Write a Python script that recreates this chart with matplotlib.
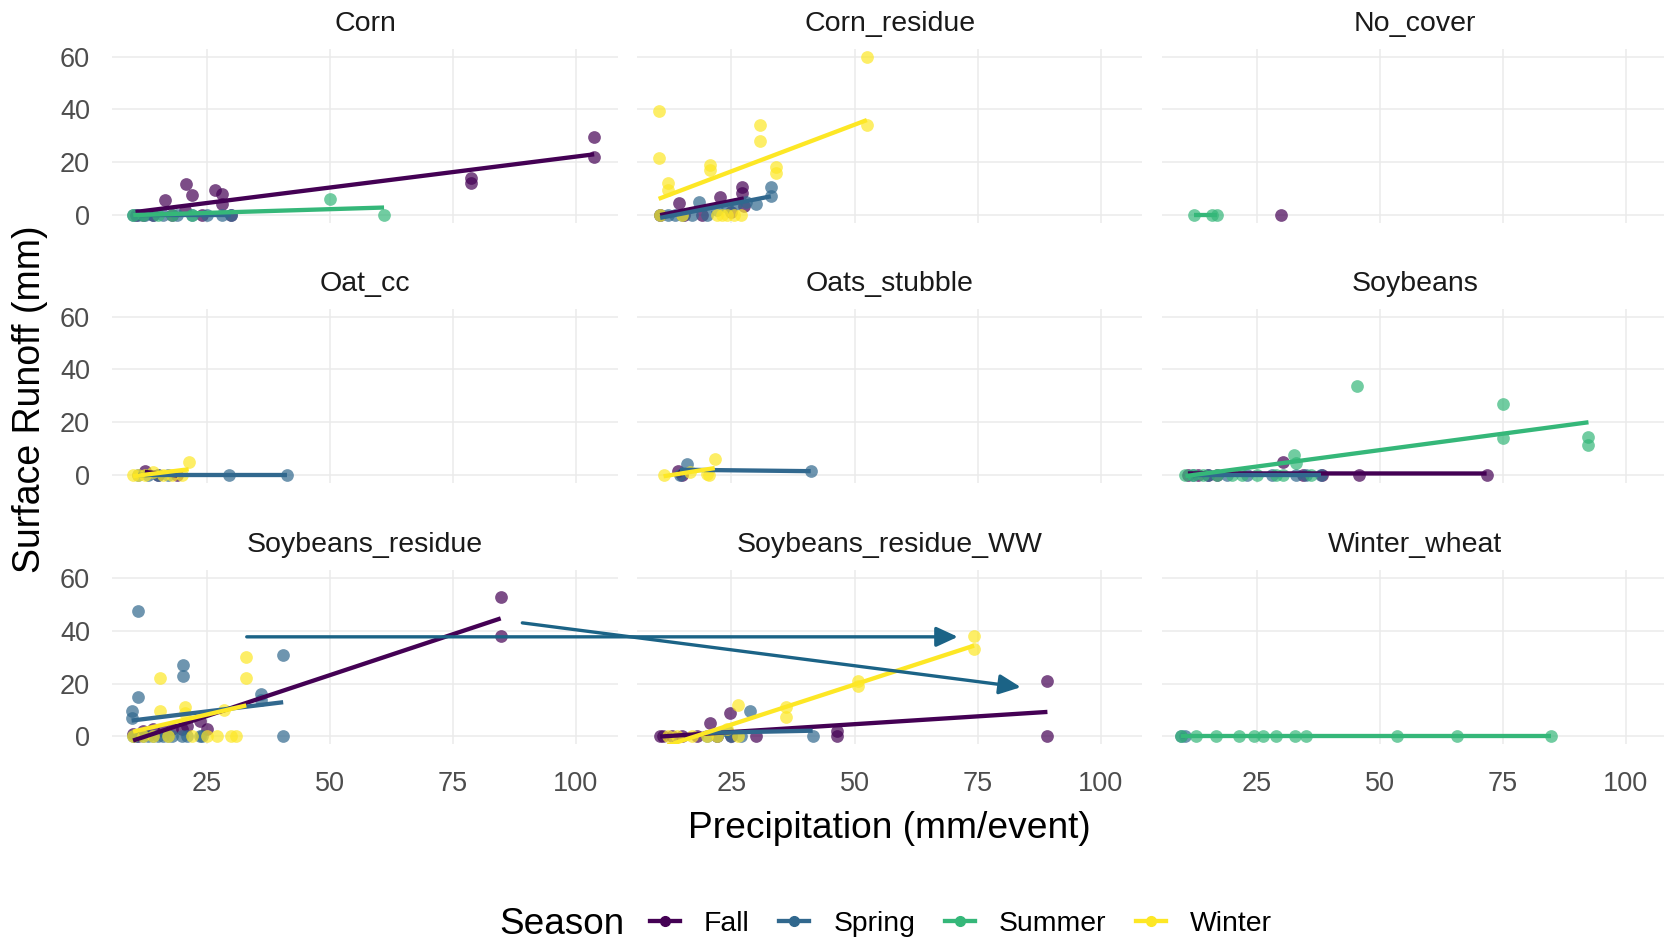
import matplotlib.pyplot as plt
import numpy as np
from matplotlib.lines import Line2D
from matplotlib.patches import ConnectionPatch

plt.rcParams['font.family'] = ['Liberation Sans', 'DejaVu Sans']

seasons = ['Fall', 'Spring', 'Summer', 'Winter']
colors = ['#440154', '#31688E', '#35B779', '#FDE725']

# precipitation (x) and runoff (y) per panel and season
corn = {
    'Fall': ([10.5, 12, 14, 16.5, 18, 20.8, 22, 20.5, 24, 26.7, 28, 28, 30, 78.7, 78.7, 103.7, 103.7],
             [0, 0, 0, 5.7, 0, 11.7, 7.6, 2, 0, 9.5, 8, 4, 0, 14, 12, 29.6, 22]),
    'Spring': ([10, 11, 12.5, 14, 16, 19, 22, 25, 28, 30],
               [0, 0, 0, 0, 0, 0, 0, 0, 0, 0]),
    'Summer': ([10, 12, 15, 18, 22, 50, 61],
               [0, 0, 0, 0, 0, 6, 0]),
}
corn_residue = {
    'Fall': ([10.5, 14.4, 15.4, 19, 22.6, 27.2, 27.2, 27.5, 25],
             [0, 4.7, 0, 0, 6.7, 10.5, 8.2, 3.2, 1]),
    'Spring': ([10.5, 12, 13.5, 15, 17, 18.3, 20, 22, 24, 26, 28, 30, 33, 33],
               [0, 0, 0, 0, 0, 5, 0, 2, 3, 4, 5, 4, 10.5, 7]),
    'Winter': ([10.2, 10.2, 10.5, 12, 12, 15, 20.6, 20.6, 22, 23, 24, 25.5, 27, 30.7, 30.7, 34, 34,
                52.5, 52.5],
               [39.5, 21.5, 0, 12, 9.5, 0, 19, 17, 0, 0, 0, 0, 0, 34, 28, 18.3, 15.8, 60, 34]),
}
no_cover = {
    'Fall': ([29.9], [0]),
    'Summer': ([12.2, 15.8, 17], [0, 0, 0]),
}
oat_cc = {
    'Fall': ([12.4, 15, 19], [1.5, 0, 0]),
    'Spring': ([11, 13, 15, 17, 29.4, 41.3], [0, 0, 0, 0, 0, 0]),
    'Winter': ([10, 11, 12.5, 14, 16, 18, 20, 21.3], [0, 0, 0, 1, 0, 0, 0, 5]),
}
oats_stubble = {
    'Fall': ([14.2, 15], [1.5, 0]),
    'Spring': ([15.9, 14.5, 41.1], [4, 0, 1.3]),
    'Winter': ([11.2, 16.6, 20, 20.5, 21.6], [0, 1, 0.5, 0, 6]),
}
soybeans = {
    'Fall': ([11, 13, 15, 17, 30.3, 34.3, 38.3, 45.8, 71.7],
             [0, 0, 0, 0, 5, 0, 0, 0, 0]),
    'Spring': ([12, 15, 19, 23, 28, 33, 35, 38],
               [0, 0, 0, 0, 0, 0, 0, 0]),
    'Summer': ([10.5, 12, 14, 17, 20, 22, 25, 29, 30.3, 32.6, 33, 36, 45.4, 75, 75, 92.4, 92.4],
               [0, 0, 0, 0, 0, 0, 0, 0, 0, 7.6, 4.5, 0, 33.7, 27, 14, 14.5, 11.5]),
}
soybeans_residue = {
    'Fall': ([10, 11, 12, 14, 16, 18, 20, 21, 23.6, 25, 84.7, 84.7],
             [1, 0, 2, 3, 2, 3, 3, 4, 6, 3, 53, 38]),
    'Spring': ([11, 20.2, 20.2, 40.5, 40.5, 11, 9.7, 9.7, 36, 36, 23.6, 10, 12, 14, 16, 18, 20,
                10.5, 13, 15, 17, 21, 24],
               [47.5, 27, 23, 31, 0, 15, 9.5, 7, 16, 14, 0, 0, 0, 0, 0, 0, 0,
                0, 0, 0, 0, 0, 0]),
    'Winter': ([10, 12, 14, 15.4, 15.4, 17, 20.6, 20.6, 22, 25, 27, 28.4, 30, 31, 33, 33],
               [0, 0, 0, 22, 9.5, 0, 11, 9, 0, 0, 0, 10, 0, 0, 30, 22]),
}
soybeans_residue_ww = {
    'Fall': ([10.5, 11, 13, 15, 18, 20.6, 22, 24.7, 25, 30, 46.5, 46.5, 89.2, 89.2],
             [0, 0, 0, 0, 0, 5, 0, 9, 0, 0, 0, 2, 21, 0]),
    'Spring': ([20, 22, 24, 25, 27, 28.7, 41.5],
               [0, 0, 2, 0, 0, 9.5, 0]),
    'Winter': ([12, 14, 17, 20, 22, 24, 26.3, 26.3, 36, 36, 50.7, 50.7, 74.3, 74.3],
               [0, 0, 0, 0, 0, 3, 12, 0, 11, 7.5, 21, 19, 38, 33]),
}
winter_wheat = {
    'Spring': ([9.7, 10.5], [0, 0]),
    'Summer': ([9.7, 12.7, 16.8, 21.4, 24.5, 26.2, 28.9, 32.8, 35, 53.5, 65.6, 84.7],
               [0, 0, 0, 0, 0, 0, 0, 0, 0, 0, 0, 0]),
}

panel_names = ['Corn', 'Corn_residue', 'No_cover', 'Oat_cc', 'Oats_stubble', 'Soybeans',
               'Soybeans_residue', 'Soybeans_residue_WW', 'Winter_wheat']
panel_data = [corn, corn_residue, no_cover, oat_cc, oats_stubble, soybeans,
              soybeans_residue, soybeans_residue_ww, winter_wheat]

x_ticks = [25, 50, 75, 100]
y_ticks = [0, 20, 40, 60]

W, H = 1665, 944
fig = plt.figure(figsize=(W / 100, H / 100), dpi=100)

lefts = [112.4, 637, 1162.3]
tops = [48.8, 308.8, 570.4]
pw, ph = 505.4, 174

axes = []
for i, (name, data) in enumerate(zip(panel_names, panel_data)):
    r, c = divmod(i, 3)
    ax = fig.add_axes([lefts[c] / W, 1 - (tops[r] + ph) / H, pw / W, ph / H])
    axes.append(ax)
    ax.set_xlim(5.8, 108.5)
    ax.set_ylim(-3, 63)
    ax.set_xticks(x_ticks)
    ax.set_yticks(y_ticks)
    ax.grid(True, color='#EBEBEB', lw=1.1)
    ax.set_axisbelow(True)
    for s in ax.spines.values():
        s.set_visible(False)
    ax.tick_params(length=0, labelsize=19.5, labelcolor='#4D4D4D')
    ax.tick_params(axis='y', pad=16)
    ax.tick_params(axis='x', pad=19)
    if c != 0:
        ax.set_yticklabels([])
    if r != 2:
        ax.set_xticklabels([])
    ax.text(0.5, 1 + 25 / ph, name, transform=ax.transAxes, ha='center', va='center',
            fontsize=20.5, color='#1A1A1A')

    # points first, then per-season linear fits
    for season, col in zip(seasons, colors):
        if season in data:
            x, y = data[season]
            ax.scatter(x, y, s=84, color=col, alpha=0.7, lw=0, zorder=2)
    for season, col in zip(seasons, colors):
        if season in data:
            x, y = np.array(data[season][0]), np.array(data[season][1])
            if len(x) < 2:
                continue
            k, b = np.polyfit(x, y, 1)
            xs = np.array([x.min(), x.max()])
            ax.plot(xs, k * xs + b, color=col, lw=3.1, zorder=3, solid_capstyle='butt')

fig.text((637 + pw / 2) / W, 1 - 828 / H, 'Precipitation (mm/event)',
         ha='center', va='center', fontsize=26.7)
fig.text(30 / W, 1 - 399 / H, 'Surface Runoff (mm)', rotation=90,
         ha='center', va='center', fontsize=27)

# annotation arrows from Soybeans_residue to Soybeans_residue_WW
arrow_color = '#1B6386'
for (xa, ya), (xb, yb) in [((33.1, 37.8), (71, 37.8)), ((89.1, 43.1), (83.8, 18.7))]:
    con = ConnectionPatch(xyA=(xa, ya), coordsA=axes[6].transData,
                          xyB=(xb, yb), coordsB=axes[7].transData,
                          arrowstyle='-|>,head_length=0.65,head_width=0.3',
                          color=arrow_color, lw=2.4, mutation_scale=20, zorder=10)
    fig.add_artist(con)

# legend
fig.text(499 / W, 1 - 924 / H, 'Season', ha='left', va='center', fontsize=26.6)
handles = [Line2D([], [], color=c, lw=3.1, marker='o', markersize=7) for c in colors]
fig.legend(handles, seasons, loc='center left', bbox_to_anchor=(650 / W, 1 - 924 / H),
           ncol=4, frameon=False, fontsize=20.4, handlelength=1.05, handletextpad=0.85,
           columnspacing=1.05, borderpad=0, borderaxespad=0)

fig.savefig('out.png', dpi=100)
